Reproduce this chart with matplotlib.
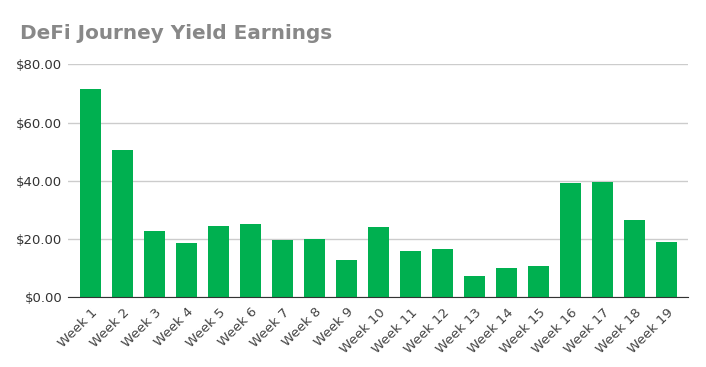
import matplotlib.pyplot as plt
from matplotlib.ticker import FuncFormatter

weeks = [f"Week {i}" for i in range(1, 20)]
earnings = [71.4, 50.5, 22.7, 18.5, 24.4, 25.1, 19.6, 19.9, 12.7, 24.0,
            15.8, 16.5, 7.2, 10.0, 10.6, 39.1, 39.5, 26.4, 18.9]
y_ticks = [0, 20, 40, 60, 80]

fig = plt.figure(figsize=(7.06, 3.67), dpi=100)
ax = fig.add_axes([0.0963, 0.19, 0.8782, 0.6348])

ax.bar(range(len(weeks)), earnings, width=0.66, color="#00b050", zorder=3)

ax.set_xlim(-0.7, len(weeks) - 0.33)
ax.set_ylim(0, 80)
ax.set_yticks(y_ticks)
ax.yaxis.set_major_formatter(FuncFormatter(lambda v, p: f"${v:.2f}"))
ax.grid(axis="y", color="#cccccc", linewidth=1, zorder=0)

ax.set_xticks(range(len(weeks)))
ax.set_xticklabels(weeks, rotation=45, ha="right", rotation_mode="anchor",
                   fontsize=9.5, color="#444444")
ax.tick_params(axis="x", length=0, pad=6)
ax.tick_params(axis="y", length=0, pad=4, labelsize=9.5, labelcolor="#333333")

for side in ["top", "right", "left"]:
    ax.spines[side].set_visible(False)
ax.spines["bottom"].set_color("#333333")
ax.spines["bottom"].set_zorder(4)

fig.text(0.028, 0.91, "DeFi Journey Yield Earnings", fontsize=14.4,
         fontweight="bold", color="#888888", va="center")

fig.savefig("out.png", dpi=100)
